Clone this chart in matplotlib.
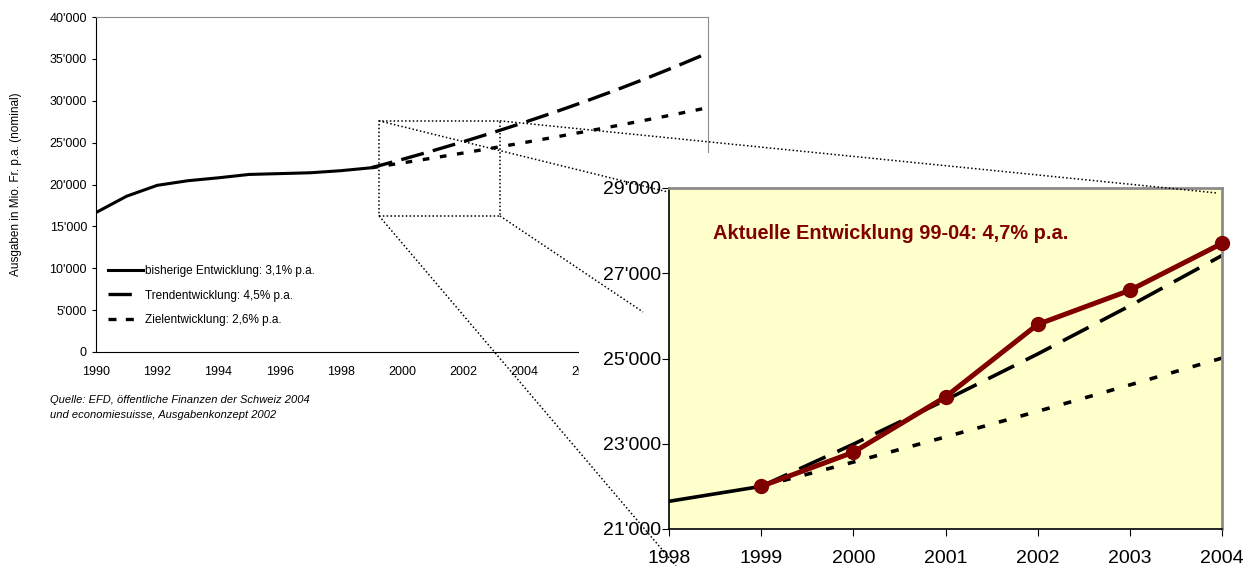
import matplotlib.pyplot as plt
from matplotlib.patches import Rectangle
from matplotlib.lines import Line2D
from matplotlib.ticker import FuncFormatter

plt.rcParams['font.family'] = ['Liberation Sans', 'DejaVu Sans']

# Daten (Mio. Fr.)
years_hist = [1990, 1991, 1992, 1993, 1994, 1995, 1996, 1997, 1998, 1999]
hist = [16650, 18600, 19900, 20450, 20800, 21200, 21300, 21400, 21650, 22000]

years_proj = list(range(1999, 2011))
trend = [22000, 22990, 24025, 25106, 26236, 27416, 28650, 29940, 31290, 32695, 34170, 35705]
target = [22000, 22570, 23160, 23760, 24380, 25010, 25660, 26330, 27010, 27715, 28435, 29175]

years_act = [1999, 2000, 2001, 2002, 2003, 2004]
actual = [22000, 22800, 24100, 25800, 26600, 27700]

labels = ['bisherige Entwicklung: 3,1% p.a.',
          'Trendentwicklung: 4,5% p.a.',
          'Zielentwicklung: 2,6% p.a.']
red = '#800000'

W, H = 1257, 566
fig = plt.figure(figsize=(W / 100, H / 100), dpi=100)

def fx(px):
    return px / W

def fy(py):
    return 1 - py / H

def apos(v, pos):
    return f'{int(v):,}'.replace(',', "'")

# Hauptgrafik
ax = fig.add_axes([fx(96), fy(352), fx(708 - 96), (352 - 17) / H])
ax.plot(years_hist, hist, color='black', lw=2.2, solid_capstyle='butt')
ax.plot(years_proj, trend, color='black', lw=2.4, ls=(0.5, (7, 2.8)))
ax.plot(years_proj, target, color='black', lw=2.4, ls=(0, (2, 3.2)))
ax.set_xlim(1990, 2010)
ax.set_ylim(0, 40000)
ax.set_xticks(range(1990, 2007, 2))
ax.set_yticks(range(0, 40001, 5000))
ax.yaxis.set_major_formatter(FuncFormatter(apos))
ax.tick_params(labelsize=9, length=3, direction='out')
ax.tick_params(axis='x', length=0, pad=10)
for s in ['top', 'right']:
    ax.spines[s].set_color('#8c8c8c')
    ax.spines[s].set_linewidth(0.8)
ax.set_ylabel('Ausgaben in Mio. Fr. p.a. (nominal)', fontsize=8.5, labelpad=20)

handles = [Line2D([], [], color='black', lw=2.2),
           Line2D([], [], color='black', lw=2.4, ls=(0, (7, 20))),
           Line2D([], [], color='black', lw=2.4, ls=(0, (2.4, 2.8, 2.4, 20)))]
ax.legend(handles, labels, loc='lower left', bbox_to_anchor=(fx(108), fy(326)),
          bbox_transform=fig.transFigure, frameon=False, fontsize=8.5,
          handlelength=3.0, handletextpad=0.15, labelspacing=1.05,
          borderpad=0, borderaxespad=0)

# Zoom-Rahmen im Hauptdiagramm
bx0, bx1, by0, by1 = 1999.25, 2003.2, 16250, 27600
ax.add_patch(Rectangle((bx0, by0), bx1 - bx0, by1 - by0, fill=False,
                       ls=(0, (1, 1.5)), lw=1.1, color='black', zorder=5))

fig.text(fx(50), fy(400), 'Quelle: EFD, öffentliche Finanzen der Schweiz 2004',
         fontsize=8, style='italic', va='center')
fig.text(fx(50), fy(415), 'und economiesuisse, Ausgabenkonzept 2002',
         fontsize=8, style='italic', va='center')

# weisse Abdeckung unter dem Ausschnitt
fig.add_artist(Rectangle((fx(579), 0), 1 - fx(579), fy(153), transform=fig.transFigure,
                         facecolor='white', edgecolor='none', zorder=1))

# Ausschnitt 1998-2004
ins = fig.add_axes([fx(669), fy(529), fx(1222 - 669), (529 - 188) / H], zorder=2)
ins.set_facecolor('#ffffcc')
ins.plot(years_hist[-2:], hist[-2:], color='black', lw=2.6)
ins.plot(years_proj[:6], trend[:6], color='black', lw=2.6, ls=(0, (8, 3.6)))
ins.plot(years_proj[:6], target[:6], color='black', lw=2.6, ls=(0, (2.2, 4)))
ins.plot(years_act, actual, color=red, lw=3.6, marker='o', ms=10, clip_on=False, zorder=4)
ins.set_xlim(1998, 2004)
ins.set_ylim(21000, 29000)
ins.set_xticks(range(1998, 2005))
ins.set_yticks(range(21000, 29001, 2000))
ins.yaxis.set_major_formatter(FuncFormatter(apos))
ins.tick_params(labelsize=14, length=5, direction='out', pad=1)
ins.tick_params(axis='x', pad=10)
for s in ['top', 'right']:
    ins.spines[s].set_color('#8c8c8c')
    ins.spines[s].set_linewidth(2)
for s in ['left', 'bottom']:
    ins.spines[s].set_linewidth(1.2)
ins.text(1998.48, 27800, 'Aktuelle Entwicklung 99-04: 4,7% p.a.', color=red,
         fontsize=14.4, fontweight='bold', va='baseline')

# gepunktete Verbindungslinien
corners = [((bx0, by1), (668, 192)), ((bx1, by1), (1217, 193)),
           ((bx1, by0), (643, 312)), ((bx0, by0), (676, 566))]
for (dx, dy), (px, py) in corners:
    x0, y0 = fig.transFigure.inverted().transform(ax.transData.transform((dx, dy)))
    fig.add_artist(Line2D([x0, fx(px)], [y0, fy(py)], transform=fig.transFigure,
                          color='black', lw=1.1, ls=(0, (1, 1.5)), zorder=3))

fig.savefig('out.png', dpi=100)
